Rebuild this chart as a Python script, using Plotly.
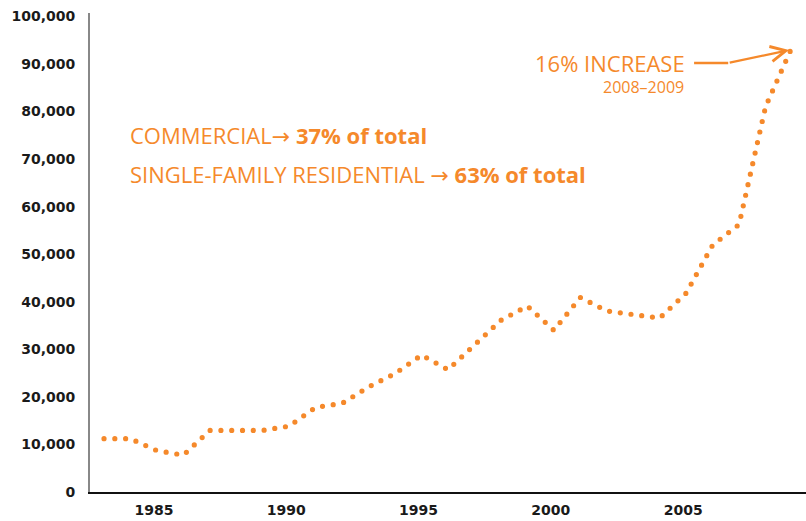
import plotly.graph_objects as go

years = list(range(1983, 2010))
permits = [11200, 11200, 8700, 7750, 12950, 12950, 12950, 13850, 17800, 18630,
           22100, 24900, 28800, 25700, 31000, 36100, 39100, 34000, 40900, 38060,
           37300, 36580, 41800, 51900, 56240, 81000, 93500]

x_ticks = [1985, 1990, 1995, 2000, 2005]
y_ticks = [0, 10000, 20000, 30000, 40000, 50000, 60000, 70000, 80000, 90000, 100000]
y_tick_text = [f"{v:,}" for v in y_ticks]

ORANGE = "#F5892B"
FONT = "Open Sans"
TICKFONT = "DejaVu Sans"
ARROW = '<span style="font-family:DejaVu Sans">→</span>'

fig = go.Figure()
fig.add_trace(go.Scatter(
    x=years, y=permits, mode="lines",
    line=dict(color=ORANGE, width=5.2, dash="0px,10.8px"),
    hoverinfo="x+y", showlegend=False,
))

fig.update_layout(
    width=806, height=521,
    margin=dict(l=90, r=0, t=13, b=29),
    paper_bgcolor="white", plot_bgcolor="white",
    font=dict(family=FONT, color="#1a1a1a"),
    xaxis=dict(
        range=[1982.47, 2009.53], tickvals=x_ticks, ticks="",
        showgrid=False, zeroline=False,
        showline=True, linecolor="#111111", linewidth=1.5,
        tickfont=dict(family=TICKFONT, size=14, color="#1a1a1a", weight="bold"),
        ticklabelstandoff=4, ticklabelshift=-3,
    ),
    yaxis=dict(
        range=[0, 100700], tickvals=y_ticks, ticktext=y_tick_text, ticks="",
        showgrid=False, zeroline=False,
        showline=True, linecolor="#888888", linewidth=2,
        tickfont=dict(family=TICKFONT, size=14, color="#1a1a1a", weight="bold"),
        ticklabelstandoff=10,
    ),
)

annots = [
    dict(text=f"COMMERCIAL{ARROW} <b>37% of total</b>", x=0.054, y=0.745, xanchor="left",
         yanchor="middle", font=dict(size=22, color=ORANGE, family=FONT)),
    dict(text=f"SINGLE-FAMILY RESIDENTIAL {ARROW} <b>63% of total</b>", x=0.054, y=0.6645,
         xanchor="left", yanchor="middle", font=dict(size=22, color=ORANGE, family=FONT)),
    dict(text="16% INCREASE", x=0.832, y=0.8956, xanchor="right", yanchor="middle",
         font=dict(size=22, color=ORANGE, family=FONT)),
    dict(text="2008–2009", x=0.831, y=0.846, xanchor="right", yanchor="middle",
         font=dict(size=16, color=ORANGE, family=FONT)),
]
for a in annots:
    fig.add_annotation(xref="paper", yref="paper", showarrow=False, borderpad=0, **a)

# arrow: horizontal lead then angled shaft with open head
fig.add_shape(type="line", xref="x", yref="y", x0=2005.30, y0=90190, x1=2006.59, y1=90190,
              line=dict(color=ORANGE, width=2.3))
fig.add_annotation(xref="x", yref="y", axref="x", ayref="y", x=2008.89, y=92910,
                   ax=2006.59, ay=90190, text="", showarrow=True, arrowhead=5,
                   arrowsize=1.3, arrowwidth=2.3, arrowcolor=ORANGE, standoff=0)

css_js = ("var st=document.createElement('style');"
          "st.textContent='.scatterlayer .js-line{stroke-linecap:round !important;}';"
          "document.head.appendChild(st);")
fig.write_html("out.html", post_script=css_js)
